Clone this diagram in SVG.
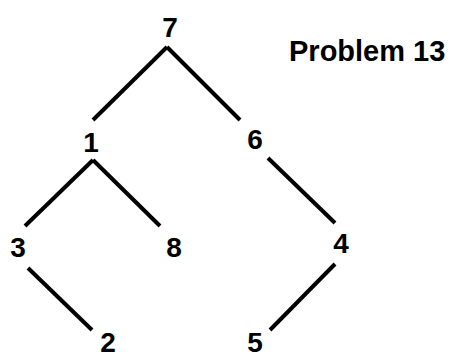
<svg xmlns="http://www.w3.org/2000/svg" width="453" height="359" viewBox="0 0 453 359">
<style>
.n{font-family:"Liberation Sans",Arial,sans-serif;font-weight:bold;font-size:28px;fill:#000;text-anchor:middle}
.t{font-family:"Liberation Sans",Arial,sans-serif;font-weight:bold;font-size:29px;fill:#000}
.e{stroke:#000;stroke-width:4;fill:none}
</style>
<rect width="453" height="359" fill="#fff"/>
<g id="connectors">
<line class="e" x1="167" y1="47" x2="93" y2="120"/>
<line class="e" x1="167" y1="47" x2="240" y2="120"/>
<line class="e" x1="93" y1="160" x2="25" y2="226"/>
<line class="e" x1="93" y1="160" x2="160" y2="226"/>
<line class="e" x1="268" y1="158" x2="335" y2="223"/>
<line class="e" x1="28" y1="268" x2="92" y2="330"/>
<line class="e" x1="335" y1="264" x2="270" y2="330"/>
</g>
<g id="node7"><text class="n" x="170" y="37">7</text></g>
<g id="node1"><text class="n" x="91" y="152">1</text></g>
<g id="node6"><text class="n" x="255" y="149">6</text></g>
<g id="node3"><text class="n" x="18" y="257">3</text></g>
<g id="node8"><text class="n" x="174" y="257">8</text></g>
<g id="node4"><text class="n" x="341" y="253">4</text></g>
<g id="node2"><text class="n" x="108" y="352">2</text></g>
<g id="node5"><text class="n" x="255" y="352">5</text></g>
<g id="title"><text class="t" x="289" y="61">Problem 13</text></g>
</svg>
